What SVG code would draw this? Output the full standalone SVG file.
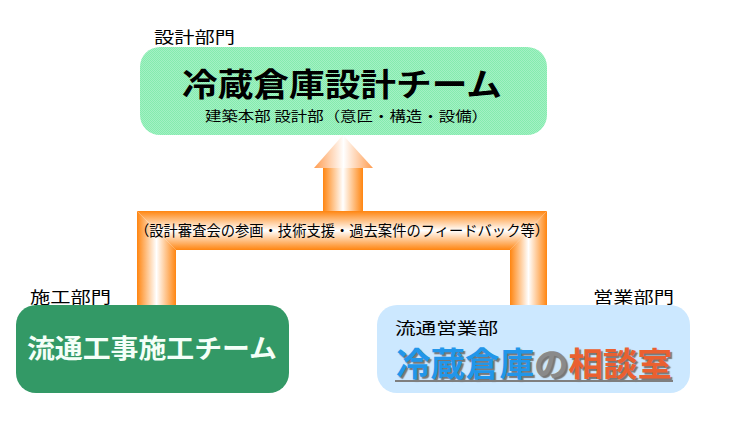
<svg xmlns="http://www.w3.org/2000/svg" width="730" height="433" viewBox="0 0 730 433">
<style>
text{font-family:"Noto Sans CJK JP","Noto Sans",sans-serif;fill:#000}
.lab{font-size:16px}
.sub{font-size:14px}
.b{font-weight:700}
.shadow{text-shadow:2px 2px 1px #777}
</style>
<defs>
<linearGradient id="gl" gradientUnits="userSpaceOnUse" x1="137" y1="0" x2="176" y2="0"><stop offset="0" stop-color="#ff8510"/><stop offset=".5" stop-color="#fff"/><stop offset="1" stop-color="#ff8510"/></linearGradient>
<linearGradient id="gr" gradientUnits="userSpaceOnUse" x1="510" y1="0" x2="547" y2="0"><stop offset="0" stop-color="#ff8510"/><stop offset=".5" stop-color="#fff"/><stop offset="1" stop-color="#ff8510"/></linearGradient>
<linearGradient id="gh" gradientUnits="userSpaceOnUse" x1="0" y1="211" x2="0" y2="250"><stop offset="0" stop-color="#ff8510"/><stop offset=".5" stop-color="#fff"/><stop offset="1" stop-color="#ff8510"/></linearGradient>
<linearGradient id="ga" gradientUnits="userSpaceOnUse" x1="314" y1="0" x2="373" y2="0"><stop offset="0" stop-color="#ff9c50"/><stop offset=".5" stop-color="#fff"/><stop offset="1" stop-color="#ff9c50"/></linearGradient>
<linearGradient id="gs" gradientUnits="userSpaceOnUse" x1="323" y1="0" x2="363" y2="0"><stop offset="0" stop-color="#ff8510"/><stop offset=".5" stop-color="#fff"/><stop offset="1" stop-color="#ff8510"/></linearGradient>
<pattern id="dither" width="2" height="2" patternUnits="userSpaceOnUse"><rect width="2" height="2" fill="#a4f0c4"/><rect width="1" height="1" fill="#84ecae"/><rect x="1" y="1" width="1" height="1" fill="#84ecae"/></pattern>
</defs>
<rect width="730" height="433" fill="#fff"/>
<g id="connectors">
<polygon points="137,211 176,250 176,305 137,305" fill="url(#gl)"/>
<polygon points="547,211 510,250 510,305 547,305" fill="url(#gr)"/>
<polygon points="137,211 547,211 510,250 176,250" fill="url(#gh)"/>
<rect x="323" y="168" width="40" height="43" fill="url(#gs)"/>
<polygon points="343,135 373,168 314,168" fill="url(#ga)"/>
<text x="135" y="236" font-size="14.5" textLength="414" lengthAdjust="spacingAndGlyphs">（設計審査会の参画・技術支援・過去案件のフィードバック等）</text>
</g>
<g id="node-design">
<rect x="140" y="47" width="407" height="88" rx="20" fill="url(#dither)"/>
<text class="lab" x="154" y="43" textLength="81" lengthAdjust="spacingAndGlyphs">設計部門</text>
<text class="b" x="182" y="96" font-size="32" textLength="320" lengthAdjust="spacingAndGlyphs">冷蔵倉庫設計チーム</text>
<text class="sub" x="205" y="121" textLength="283" lengthAdjust="spacingAndGlyphs">建築本部 設計部（意匠・構造・設備）</text>
</g>
<g id="node-construction">
<rect x="16" y="305" width="273" height="88" rx="20" fill="#339966"/>
<text class="lab" x="30" y="303" textLength="81" lengthAdjust="spacingAndGlyphs">施工部門</text>
<text class="b" x="27" y="358" font-size="26" style="fill:#f4fff8" textLength="250" lengthAdjust="spacingAndGlyphs">流通工事施工チーム</text>
</g>
<g id="node-sales">
<rect x="377" y="305" width="313" height="88" rx="20" fill="#cce8ff"/>
<text class="lab" x="593" y="303" textLength="81" lengthAdjust="spacingAndGlyphs">営業部門</text>
<text class="lab" x="395" y="334" textLength="103" lengthAdjust="spacingAndGlyphs">流通営業部</text>
<text class="b shadow" x="396" y="376" font-size="33" textLength="276" lengthAdjust="spacingAndGlyphs"><tspan style="fill:#2196ea">冷蔵倉庫</tspan><tspan style="fill:#8a8a8a">の</tspan><tspan style="fill:#ea6030">相談室</tspan></text>
<rect x="395" y="380" width="278" height="2" fill="#7f7f7f"/>
</g>
</svg>
